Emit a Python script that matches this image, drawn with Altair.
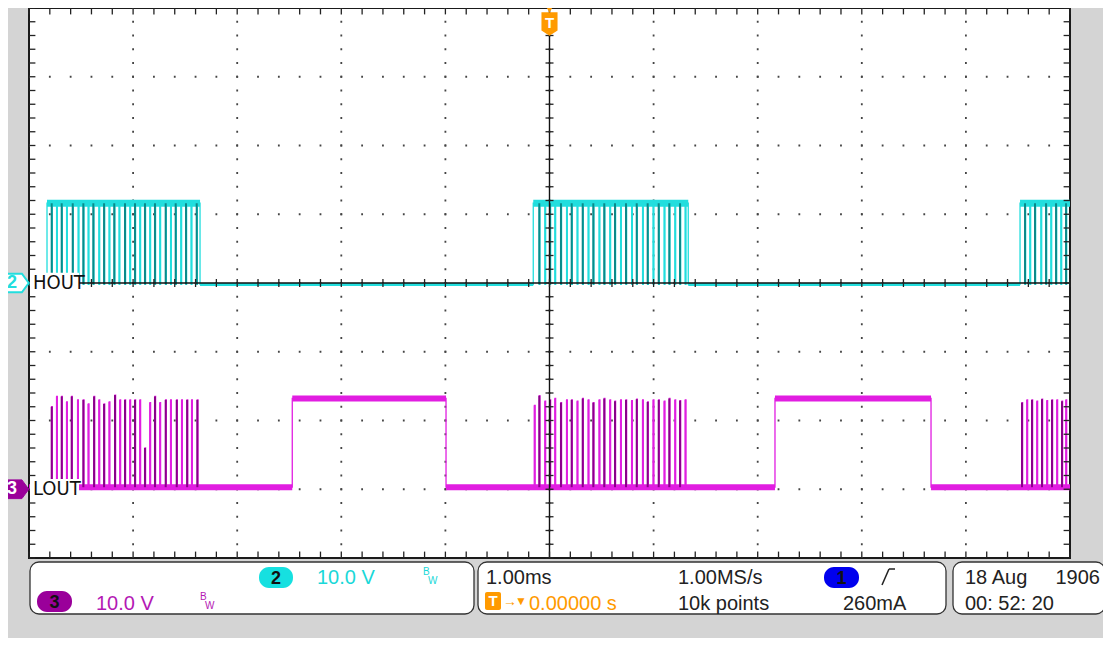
import altair as alt
import numpy as np
import pandas as pd

# ================= values read from the screen =================
# time in ms (1.00 ms/div, trigger at 0 ms), levels in volts (10.0 V/div)
HOUT_BURSTS = [[-4.827, -3.357], [-0.156, 1.333], [4.520, 5.000]]
HOUT_DIPS = [
    [-4.782, -4.734, -4.686, -4.638, -4.580, -4.526, -4.478, -4.430, -4.382, -4.327,
     -4.279, -4.229, -4.181, -4.133, -4.078, -4.030, -3.982, -3.934, -3.886, -3.838,
     -3.790, -3.742, -3.687, -3.639, -3.591, -3.540, -3.492, -3.441, -3.389],
    [-0.098, -0.043, 0.005, 0.053, 0.110, 0.165, 0.213, 0.267, 0.319, 0.373,
     0.421, 0.478, 0.526, 0.581, 0.629, 0.684, 0.735, 0.790, 0.838, 0.895,
     0.943, 0.997, 1.049, 1.103, 1.151, 1.206, 1.254, 1.305],
    [4.568, 4.616, 4.664, 4.722, 4.770, 4.818, 4.866, 4.914, 4.962],
]
HOUT_HIGH_V = 11.6
HOUT_LOW_V = -0.2

LOUT_HIGH_SEGMENTS = [[-2.471, -0.994], [2.166, 3.665]]
LOUT_HIGH_V = 13.2
LOUT_LOW_V = 0.3
LOUT_SPIKE_T = [
    -4.782, -4.734, -4.686, -4.638, -4.590, -4.532, -4.478, -4.430, -4.375, -4.327,
    -4.279, -4.229, -4.174, -4.126, -4.078, -4.030, -3.982, -3.934, -3.886, -3.838,
    -3.790, -3.742, -3.687, -3.639, -3.581, -3.533, -3.481, -3.437, -3.383,
    -0.144, -0.098, -0.043, 0.005, 0.053, 0.110, 0.165, 0.213, 0.267, 0.319,
    0.373, 0.421, 0.478, 0.526, 0.581, 0.629, 0.684, 0.735, 0.790, 0.838,
    0.895, 0.943, 0.997, 1.049, 1.103, 1.151, 1.206, 1.254, 1.305,
    4.539, 4.587, 4.635, 4.683, 4.731, 4.779, 4.827, 4.875, 4.923, 4.962,
]
LOUT_SPIKE_V = [
    12.0, 13.5, 13.5, 12.7, 13.5, 13.0, 13.0, 12.4, 13.5, 13.0,
    12.4, 12.7, 13.7, 13.0, 13.0, 13.0, 13.0, 13.0, 6.0, 12.6,
    13.5, 12.6, 13.0, 13.0, 13.0, 13.0, 13.0, 13.0, 13.0,
    12.2, 13.6, 12.8, 13.0, 13.2, 12.6, 13.0, 13.0, 12.8, 13.2,
    13.0, 12.6, 13.0, 13.2, 13.0, 12.8, 13.0, 13.0, 12.9, 13.1,
    13.0, 12.7, 13.0, 13.0, 12.8, 13.2, 13.0, 12.9, 13.0,
    12.6, 13.0, 13.0, 12.8, 13.1, 12.9, 13.0, 13.0, 12.8, 13.0,
]

VOLTS_PER_DIV = 10.0
HOUT_OFFSET_DIV = 0.0
LOUT_OFFSET_DIV = -3.0
T_MIN, T_MAX = -5.0, 5.0
PULSE_W = 0.006  # ms, width of a narrow switching pulse

# ================= colours / fonts =================
CYAN = "#22dede"
TEAL = "#0a8a8a"
MAGENTA = "#e11ee1"
PURPLE = "#8a008a"
ORANGE = "#ff9a00"
BG = "#d4d4d4"
FONT = "Liberation Sans"
NARROW = "Liberation Sans Narrow, DejaVu Sans Condensed, Liberation Sans"

W, H = 1041, 550

xs = alt.Scale(domain=[T_MIN, T_MAX], nice=False, zero=False)
ys = alt.Scale(domain=[-4, 4], nice=False, zero=False)


def X(f, **kw):
    return alt.X(f, scale=xs, axis=None, **kw)


def Y(f, **kw):
    return alt.Y(f, scale=ys, axis=None, **kw)


def to_div(v, off):
    return v / VOLTS_PER_DIV + off


# ---------- HOUT path ----------
pts = [(T_MIN, HOUT_LOW_V)]
for (s, e), dips in zip(HOUT_BURSTS, HOUT_DIPS):
    pts += [(s, HOUT_LOW_V), (s, HOUT_HIGH_V)]
    for d in dips:
        pts += [(d, HOUT_HIGH_V), (d, HOUT_LOW_V), (d + PULSE_W, HOUT_LOW_V), (d + PULSE_W, HOUT_HIGH_V)]
    if e < T_MAX:
        pts += [(e, HOUT_HIGH_V), (e, HOUT_LOW_V)]
    else:
        pts += [(T_MAX, HOUT_HIGH_V)]
hout_df = pd.DataFrame(pts, columns=["t", "v"])
hout_df["yd"] = to_div(hout_df["v"], HOUT_OFFSET_DIV)
hout_df["i"] = range(len(hout_df))

# ---------- LOUT path ----------
events = [(t, "spike", v) for t, v in zip(LOUT_SPIKE_T, LOUT_SPIKE_V)]
events += [(s, "seg", e) for s, e in LOUT_HIGH_SEGMENTS]
events.sort()
pts = [(T_MIN, LOUT_LOW_V)]
for t, kind, val in events:
    if kind == "spike":
        pts += [(t, LOUT_LOW_V), (t, val), (t + PULSE_W, val), (t + PULSE_W, LOUT_LOW_V)]
    else:
        pts += [(t, LOUT_LOW_V), (t, LOUT_HIGH_V), (val, LOUT_HIGH_V), (val, LOUT_LOW_V)]
pts.append((T_MAX, LOUT_LOW_V))
lout_df = pd.DataFrame(pts, columns=["t", "v"])
lout_df["yd"] = to_div(lout_df["v"], LOUT_OFFSET_DIV)
lout_df["i"] = range(len(lout_df))

# ---------- edge rules (dark / light alternation like the scope's intensity) ----------
rows = []
for dips in HOUT_DIPS:
    for k, d in enumerate(dips):
        rows.append(dict(t=d, y1=to_div(HOUT_LOW_V, HOUT_OFFSET_DIV),
                         y2=to_div(HOUT_HIGH_V, HOUT_OFFSET_DIV), dark=(k % 2 == 0)))
hout_edges = pd.DataFrame(rows)
rows = []
for k, (t, v) in enumerate(zip(LOUT_SPIKE_T, LOUT_SPIKE_V)):
    rows.append(dict(t=t, y1=to_div(LOUT_LOW_V, LOUT_OFFSET_DIV),
                     y2=to_div(v, LOUT_OFFSET_DIV), dark=(k % 2 == 0)))
lout_edges = pd.DataFrame(rows)

# ---------- flat levels (noise band thickness) ----------
band_rows = []
prev = T_MIN
for s, e in HOUT_BURSTS:
    band_rows.append(dict(t0=s, t1=e, yd=to_div(HOUT_HIGH_V, HOUT_OFFSET_DIV), ch="H_hi"))
    band_rows.append(dict(t0=prev, t1=s, yd=to_div(HOUT_LOW_V, HOUT_OFFSET_DIV), ch="H_lo"))
    prev = e
if prev < T_MAX:
    band_rows.append(dict(t0=prev, t1=T_MAX, yd=to_div(HOUT_LOW_V, HOUT_OFFSET_DIV), ch="H_lo"))
prev = T_MIN
for s, e in LOUT_HIGH_SEGMENTS:
    band_rows.append(dict(t0=s, t1=e, yd=to_div(LOUT_HIGH_V, LOUT_OFFSET_DIV), ch="L_hi"))
    band_rows.append(dict(t0=prev, t1=s, yd=to_div(LOUT_LOW_V, LOUT_OFFSET_DIV), ch="L_lo"))
    prev = e
band_rows.append(dict(t0=prev, t1=T_MAX, yd=to_div(LOUT_LOW_V, LOUT_OFFSET_DIV), ch="L_lo"))
bands = pd.DataFrame(band_rows)

# ---------- graticule ----------
major_x = list(range(-4, 5))
major_y = list(range(-3, 4))
minor_y = np.round(np.arange(-4, 4.001, 0.2), 2)
minor_x = np.round(np.arange(-5, 5.001, 0.2), 2)
tx = 4 / (W / 10)   # 4 px in ms
ty = 4 / (H / 8)    # 4 px in div
grid_v = pd.DataFrame(dict(x=major_x, y0=-4.0, y1=4.0))
grid_h = pd.DataFrame(dict(y=major_y, x0=T_MIN, x1=T_MAX))
ticks_v = pd.DataFrame(dict(x0=-tx, x1=tx, y=minor_y))
ticks_h = pd.DataFrame(dict(x=minor_x, y0=-ty, y1=ty))
edge_l = pd.DataFrame(dict(x0=T_MIN, x1=T_MIN + 1.6 * tx, y=minor_y))
edge_r = pd.DataFrame(dict(x0=T_MAX - 1.6 * tx, x1=T_MAX, y=minor_y))
edge_t = pd.DataFrame(dict(x=minor_x, y0=4 - 1.6 * ty, y1=4.0))
edge_b = pd.DataFrame(dict(x=minor_x, y0=-4.0, y1=-4 + 1.6 * ty))

layers = []

# dotted graticule
layers.append(alt.Chart(grid_v).mark_rule(color="#444", strokeWidth=1.8,
                                          strokeDash=[1.8, H / 40 - 1.8], strokeDashOffset=0.9).encode(
    x=X("x:Q"), y=Y("y0:Q"), y2="y1:Q"))
layers.append(alt.Chart(grid_h).mark_rule(color="#444", strokeWidth=1.8,
                                          strokeDash=[1.8, W / 50 - 1.8], strokeDashOffset=0.9).encode(
    x=X("x0:Q"), x2="x1:Q", y=Y("y:Q")))

# HOUT bands + path
hb = bands[bands.ch.str.startswith("H")]
layers.append(alt.Chart(hb[hb.ch == "H_hi"]).mark_rule(color=CYAN, strokeWidth=7).encode(
    x=X("t0:Q"), x2="t1:Q", y=Y("yd:Q")))
layers.append(alt.Chart(hb[hb.ch == "H_lo"]).mark_rule(color=CYAN, strokeWidth=3).encode(
    x=X("t0:Q"), x2="t1:Q", y=Y("yd:Q")))
layers.append(alt.Chart(hout_df).mark_line(color=CYAN, strokeWidth=1.3).encode(
    x=X("t:Q"), y=Y("yd:Q"), order="i:Q"))
layers.append(alt.Chart(hout_edges[hout_edges.dark]).mark_rule(color=TEAL, strokeWidth=2).encode(
    x=X("t:Q"), y=Y("y1:Q"), y2="y2:Q"))
layers.append(alt.Chart(hout_edges[~hout_edges.dark]).mark_rule(color=CYAN, strokeWidth=1.5).encode(
    x=X("t:Q"), y=Y("y1:Q"), y2="y2:Q"))

# LOUT bands + path
lb = bands[bands.ch.str.startswith("L")]
layers.append(alt.Chart(lb).mark_rule(color=MAGENTA, strokeWidth=6).encode(
    x=X("t0:Q"), x2="t1:Q", y=Y("yd:Q")))
layers.append(alt.Chart(lout_df).mark_line(color=MAGENTA, strokeWidth=1.3).encode(
    x=X("t:Q"), y=Y("yd:Q"), order="i:Q"))
layers.append(alt.Chart(lout_edges[lout_edges.dark]).mark_rule(color=PURPLE, strokeWidth=2).encode(
    x=X("t:Q"), y=Y("y1:Q"), y2="y2:Q"))
layers.append(alt.Chart(lout_edges[~lout_edges.dark]).mark_rule(color=MAGENTA, strokeWidth=1.6).encode(
    x=X("t:Q"), y=Y("y1:Q"), y2="y2:Q"))

# center cross and ticks
layers.append(alt.Chart(pd.DataFrame(dict(x=[0.0], y0=[-4.0], y1=[4.0]))).mark_rule(color="#111", strokeWidth=1.4).encode(
    x=X("x:Q"), y=Y("y0:Q"), y2="y1:Q"))
layers.append(alt.Chart(pd.DataFrame(dict(x0=[T_MIN], x1=[T_MAX], y=[0.0]))).mark_rule(color="#111", strokeWidth=1.4).encode(
    x=X("x0:Q"), x2="x1:Q", y=Y("y:Q")))
for df in (ticks_v, edge_l, edge_r):
    layers.append(alt.Chart(df).mark_rule(color="#222", strokeWidth=1.3).encode(
        x=X("x0:Q"), x2="x1:Q", y=Y("y:Q")))
for df in (ticks_h, edge_t, edge_b):
    layers.append(alt.Chart(df).mark_rule(color="#222", strokeWidth=1.3).encode(
        x=X("x:Q"), y=Y("y0:Q"), y2="y1:Q"))

# channel labels with white boxes
for off, name in ((HOUT_OFFSET_DIV, "HOUT"), (LOUT_OFFSET_DIV, "LOUT")):
    layers.append(alt.Chart().mark_rect(fill="white").encode(
        x=alt.value(1), x2=alt.value(50), y=alt.Y(datum=off + 0.15, scale=ys, axis=None), y2=alt.datum(off - 0.15)))
    layers.append(alt.Chart().mark_text(text=name, font=NARROW, fontSize=20, align="left",
                                        baseline="middle", color="#111").encode(
        x=alt.value(4), y=alt.Y(datum=off, scale=ys, axis=None)))

# channel ground markers
marker_path = "M-1,-0.68L0.5,-0.68L1,0L0.5,0.68L-1,0.68Z"
layers.append(alt.Chart().mark_point(shape=marker_path, size=760, filled=True, fill="white",
                                     stroke=CYAN, strokeWidth=2, opacity=1).encode(
    x=alt.value(-14), y=alt.Y(datum=HOUT_OFFSET_DIV, scale=ys, axis=None)))
layers.append(alt.Chart().mark_text(text="2", font=FONT, fontSize=18, fontWeight="bold", color=CYAN,
                                    baseline="middle").encode(
    x=alt.value(-17), y=alt.Y(datum=HOUT_OFFSET_DIV, scale=ys, axis=None)))
layers.append(alt.Chart().mark_point(shape=marker_path, size=760, filled=True, fill="#9a009a",
                                     stroke="#9a009a", strokeWidth=1, opacity=1).encode(
    x=alt.value(-14), y=alt.Y(datum=LOUT_OFFSET_DIV, scale=ys, axis=None)))
layers.append(alt.Chart().mark_text(text="3", font=FONT, fontSize=18, fontWeight="bold", color="white",
                                    baseline="middle").encode(
    x=alt.value(-17), y=alt.Y(datum=LOUT_OFFSET_DIV, scale=ys, axis=None)))

# trigger marker
shield = "M-0.68,-1L0.68,-1L0.68,0.55L0,1L-0.68,0.55Z"
layers.append(alt.Chart().mark_point(shape="triangle-down", size=70, filled=True, fill=ORANGE, opacity=1).encode(
    x=alt.X(datum=0, scale=xs, axis=None), y=alt.value(1)))
layers.append(alt.Chart().mark_point(shape=shield, size=560, filled=True, fill=ORANGE, opacity=1).encode(
    x=alt.X(datum=0, scale=xs, axis=None), y=alt.value(16)))
layers.append(alt.Chart().mark_text(text="T", font=FONT, fontSize=15, fontWeight="bold", color="white",
                                    baseline="middle").encode(
    x=alt.X(datum=0, scale=xs, axis=None), y=alt.value(15)))

# ---------- status panels (pixel positions relative to the plot area) ----------
for x0, x1 in ((1, 445), (449, 917), (924, 1076)):
    layers.append(alt.Chart().mark_rect(fill="white", stroke="#333", strokeWidth=1.3, cornerRadius=9).encode(
        x=alt.value(x0), x2=alt.value(x1), y=alt.value(554), y2=alt.value(606)))

pills = [(230, 264, 559, 580, "#16e0e0", "2"), (8, 43, 583, 604, "#9a009a", "3"), (795, 830, 559, 580, "#0000ee", "1")]
for x0, x1, y0, y1, col, lab in pills:
    layers.append(alt.Chart().mark_rect(fill=col, cornerRadius=10).encode(
        x=alt.value(x0), x2=alt.value(x1), y=alt.value(y0), y2=alt.value(y1)))
    layers.append(alt.Chart().mark_text(text=lab, font=FONT, fontSize=18, fontWeight="bold", color="#111",
                                        baseline="middle").encode(
        x=alt.value((x0 + x1) / 2), y=alt.value((y0 + y1) / 2 + 1)))

texts = [
    ("10.0 V", 288, 576, "#1ad8d8", 20, "left"),
    ("10.0 V", 67, 602, "#b418b4", 20, "left"),
    ("1.00ms", 457, 576, "#222", 20, "left"),
    ("1.00MS/s", 649, 576, "#222", 20, "left"),
    ("10k points", 649, 602, "#222", 20, "left"),
    ("260mA", 814, 602, "#222", 20, "left"),
    ("0.00000 s", 500, 602, ORANGE, 20, "left"),
    ("18 Aug", 936, 576, "#222", 20, "left"),
    ("1906", 1071, 576, "#222", 20, "right"),
    ("00: 52: 20", 936, 602, "#222", 20, "left"),
    ("B", 394, 567, "#1ad8d8", 10, "left"),
    ("W", 399, 576, "#1ad8d8", 10, "left"),
    ("B", 171, 592, "#b418b4", 10, "left"),
    ("W", 176, 601, "#b418b4", 10, "left"),
    ("→", 474, 598, ORANGE, 14, "left"),
    ("▼", 486, 597, ORANGE, 12, "left"),
]
for s, x, y, col, fs, al in texts:
    layers.append(alt.Chart().mark_text(text=s, font=FONT, fontSize=fs, color=col, align=al,
                                        baseline="alphabetic").encode(x=alt.value(x), y=alt.value(y)))

# orange "T" box in the status line
layers.append(alt.Chart().mark_rect(fill=ORANGE, cornerRadius=2).encode(
    x=alt.value(456), x2=alt.value(472), y=alt.value(584), y2=alt.value(602)))
layers.append(alt.Chart().mark_text(text="T", font=FONT, fontSize=15, fontWeight="bold", color="white",
                                    baseline="middle").encode(x=alt.value(464), y=alt.value(593)))

# rising-edge trigger slope icon
for a, b, c, d in ((853, 577, 860, 561), (860, 561, 866, 561)):
    layers.append(alt.Chart().mark_rule(color="#222", strokeWidth=1.5).encode(
        x=alt.value(a), y=alt.value(b), x2=alt.value(c), y2=alt.value(d)))

chart = alt.layer(*layers).properties(
    width=W, height=H,
    autosize=alt.AutoSizeParams(type="none"),
    padding={"left": 21, "top": 0, "right": 33, "bottom": 80},
    background=BG,
).configure_view(fill="white", stroke="#1a1a1a", strokeWidth=2)

chart.save("out.html", embed_options={"renderer": "svg", "actions": False})
